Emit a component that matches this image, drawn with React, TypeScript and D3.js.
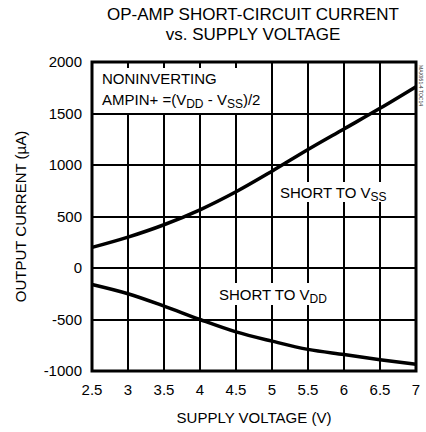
import React from 'react';
import * as d3 from 'd3';

// Supply voltage (V) at each sample point
const VOLTAGES = [2.5, 3, 3.5, 4, 4.5, 5, 5.5, 6, 6.5, 7];
// Output current (uA), short to VSS
const SHORT_TO_VSS = [200, 300, 420, 565, 740, 940, 1150, 1350, 1550, 1760];
// Output current (uA), short to VDD
const SHORT_TO_VDD = [-160, -250, -370, -500, -620, -710, -790, -840, -890, -935];

const X_TICKS = [2.5, 3, 3.5, 4, 4.5, 5, 5.5, 6, 6.5, 7];
const Y_TICKS = [-1000, -500, 0, 500, 1000, 1500, 2000];

const W = 426;
const H = 432;
const margin = {top: 62, right: 10, bottom: 61, left: 92};
const FONT = '"Liberation Sans", Arial, Helvetica, sans-serif';

export default function App () {
  const xs = d3.scaleLinear().domain([2.5, 7]).range([margin.left, W - margin.right]);
  const ys = d3.scaleLinear().domain([-1000, 2000]).range([H - margin.bottom, margin.top]);
  // snap to whole pixels so the 2px grid stays crisp
  const x = (v: number) => Math.round(xs(v));
  const y = (v: number) => Math.round(ys(v));

  const line = d3.line<number>()
    .x((d, i) => xs(VOLTAGES[i]))
    .y(d => ys(d))
    .curve(d3.curveMonotoneX);

  const x0 = x(2.5), x1 = x(7), y0 = y(-1000), y1 = y(2000);

  return (
    <svg width={W} height={H} style={{position: 'absolute', left: 0, top: 0, background: '#fff'}}
      fontFamily={FONT}>
      {/* title */}
      <text x={253} y={20} textAnchor='middle' fontSize={17}>OP-AMP SHORT-CIRCUIT CURRENT</text>
      <text x={253} y={40} textAnchor='middle' fontSize={17}>vs. SUPPLY VOLTAGE</text>

      {/* grid */}
      {X_TICKS.map(t => (
        <line key={'gx' + t} x1={x(t)} x2={x(t)} y1={y1} y2={y0} stroke='#000' strokeWidth={2} />
      ))}
      {Y_TICKS.map(t => (
        <line key={'gy' + t} x1={x0} x2={x1} y1={y(t)} y2={y(t)} stroke='#000' strokeWidth={2} />
      ))}

      {/* legend box in top-left cells */}
      <rect x={x0} y={y1} width={x(5) - x0} height={y(1500) - y1} fill='#fff' />
      {X_TICKS.filter(t => t > 2.5 && t < 5).map(t => (
        <line key={'st' + t} x1={x(t)} x2={x(t)} y1={y1} y2={y1 + 6} stroke='#000' strokeWidth={2} />
      ))}
      <line x1={x(5)} x2={x(5)} y1={y1} y2={y(1500)} stroke='#000' strokeWidth={2} />
      <line x1={x0} x2={x(5)} y1={y(1500)} y2={y(1500)} stroke='#000' strokeWidth={2} />
      <text x={x0 + 10} y={y(1790)} fontSize={15}>NONINVERTING</text>
      <text x={x0 + 10} y={y(1585)} fontSize={15}>
        AMPIN+ =(V<tspan fontSize={12} dy={3}>DD</tspan><tspan dy={-3}> - V</tspan>
        <tspan fontSize={12} dy={3}>SS</tspan><tspan dy={-3}>)/2</tspan>
      </text>

      {/* curve labels */}
      <rect x={x(5.1)} y={y(835)} width={110} height={20} fill='#fff' />
      <text x={x(5.11)} y={y(680)} fontSize={15}>
        SHORT TO V<tspan fontSize={12} dy={3}>SS</tspan>
      </text>
      <rect x={x(4.25)} y={y(-145)} width={108} height={22} fill='#fff' />
      <text x={x(4.27)} y={y(-310)} fontSize={15}>
        SHORT TO V<tspan fontSize={12} dy={3}>DD</tspan>
      </text>

      {/* curves */}
      <path d={line(SHORT_TO_VSS) || ''} fill='none' stroke='#000' strokeWidth={3.5} />
      <path d={line(SHORT_TO_VDD) || ''} fill='none' stroke='#000' strokeWidth={3.5} />

      {/* frame */}
      <rect x={x0} y={y1} width={x1 - x0} height={y0 - y1} fill='none' stroke='#000' strokeWidth={3} />

      {/* tick labels */}
      {X_TICKS.map(t => (
        <text key={'xl' + t} x={x(t)} y={y0 + 24} textAnchor='middle' fontSize={15}>{t}</text>
      ))}
      {Y_TICKS.map(t => (
        <text key={'yl' + t} x={x0 - 10} y={y(t) + 5} textAnchor='end' fontSize={15}>{t}</text>
      ))}

      {/* axis titles */}
      <text x={(x0 + x1) / 2} y={y0 + 52} textAnchor='middle' fontSize={15}>SUPPLY VOLTAGE (V)</text>
      <text transform={`translate(26,${(y0 + y1) / 2}) rotate(-90)`} textAnchor='middle' fontSize={15}>
        OUTPUT CURRENT (µA)
      </text>

      {/* figure id */}
      <text transform={`translate(${x1 + 3},${y1 + 3}) rotate(90)`} fontSize={5} fill='#333'>MAX951-4 TOC14</text>
    </svg>
  );
}
